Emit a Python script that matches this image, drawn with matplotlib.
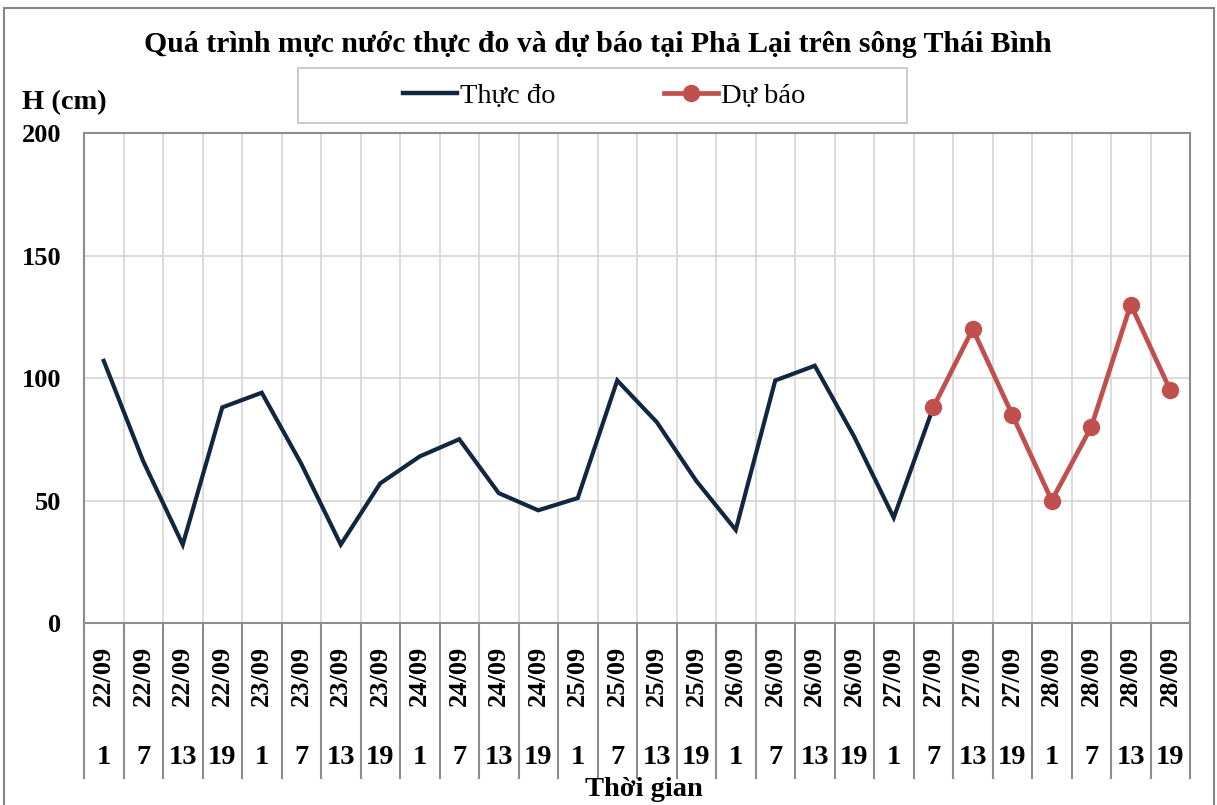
import matplotlib.pyplot as plt
import matplotlib.transforms as mtransforms
from matplotlib.lines import Line2D
from matplotlib.patches import Rectangle

# %% Data

dates = ['22/09'] * 4 + ['23/09'] * 4 + ['24/09'] * 4 + ['25/09'] * 4 + \
        ['26/09'] * 4 + ['27/09'] * 4 + ['28/09'] * 4
hours = ['1', '7', '13', '19'] * 7

# observed water level (cm), 22/09 1h -> 27/09 7h
observed = [107, 66, 32, 88, 94, 65, 32, 57, 68, 75, 53, 46,
            51, 99, 82, 58, 38, 99, 105, 76, 43, 88]

# forecast water level (cm), 27/09 7h -> 28/09 19h
forecast = [88, 120, 85, 50, 80, 130, 95]

x_obs = list(range(len(observed)))
x_fc = list(range(len(observed) - 1, len(observed) - 1 + len(forecast)))

# %% Figure

W, H = 1217, 805
plt.rcParams['font.family'] = ['Liberation Serif', 'DejaVu Serif']

fig = plt.figure(figsize=(W / 100, H / 100), dpi=100)

left, right, top, bottom = 84, 1190, 133, 623
ax = fig.add_axes([left / W, 1 - bottom / H, (right - left) / W, (bottom - top) / H])

line_col = '#13263f'
fc_col = '#c0504d'
grid_col = '#d9d9d9'
axis_col = '#8c8c8c'

ax.plot(x_obs, observed, color=line_col, lw=3.0, solid_joinstyle='miter', zorder=3)
ax.plot(x_fc, forecast, color=fc_col, lw=3.4, marker='o', markersize=11.5, zorder=4)

ax.set_xlim(-0.5, len(dates) - 0.5)
ax.set_ylim(0, 200)
ax.set_yticks([0, 50, 100, 150, 200])
ax.set_xticks([i - 0.5 for i in range(len(dates) + 1)])
ax.set_xticklabels([])
ax.tick_params(axis='x', length=0)
ax.tick_params(axis='y', length=0, pad=16.5, labelsize=19)
for lab in ax.get_yticklabels():
    lab.set_fontweight('bold')

ax.grid(True, color=grid_col, lw=1.3)
ax.set_axisbelow(True)
for side in ax.spines.values():
    side.set_color(axis_col)
    side.set_linewidth(1.5)

# %% Category labels below the axis (two levels)

trans = mtransforms.blended_transform_factory(ax.transData, fig.transFigure)
for i, (d, h) in enumerate(zip(dates, hours)):
    ax.text(i, 1 - 676 / H, d, transform=trans, rotation=90, ha='center', va='center',
            fontsize=19, fontweight='bold', clip_on=False)
    ax.text(i, 1 - 757 / H, h, transform=trans, ha='center', va='center',
            fontsize=20.5, fontweight='bold', clip_on=False)

for i in range(len(dates) + 1):
    fig.add_artist(Line2D([i - 0.5, i - 0.5], [1 - bottom / H, 1 - 778 / H], transform=trans,
                          color=axis_col, lw=1.5))

# %% Titles and labels

fig.text(598 / W, 1 - 45 / H, 'Quá trình mực nước thực đo và dự báo tại Phả Lại trên sông Thái Bình',
         ha='center', va='center', fontsize=21.4, fontweight='bold')
fig.text(22 / W, 1 - 103 / H, 'H (cm)', ha='left', va='center', fontsize=20.5, fontweight='bold')
fig.text(644 / W, 1 - 789 / H, 'Thời gian', ha='center', va='center', fontsize=20.5, fontweight='bold')

# %% Legend

fig.add_artist(Rectangle((298 / W, 1 - 123 / H), (907 - 298) / W, (123 - 68) / H,
                         transform=fig.transFigure, fill=False, edgecolor='#c8c8c8', lw=1.3))
handles = [Line2D([], [], color=line_col, lw=3.2),
           Line2D([], [], color=fc_col, lw=3.4, marker='o', markersize=11.5)]
fig.legend(handles, ['Thực đo', 'Dự báo'], loc='center', bbox_to_anchor=(604 / W, 1 - 96 / H),
           ncol=2, frameon=False, fontsize=20.5, handlelength=1.9, handletextpad=0.1,
           columnspacing=3.8)

# outer chart border
fig.add_artist(Rectangle((4 / W, -0.02), (1214 - 4) / W, 1.02 - 8 / H, transform=fig.transFigure,
                         fill=False, edgecolor='#868686', lw=1.5))

fig.savefig('out.png', dpi=100)
